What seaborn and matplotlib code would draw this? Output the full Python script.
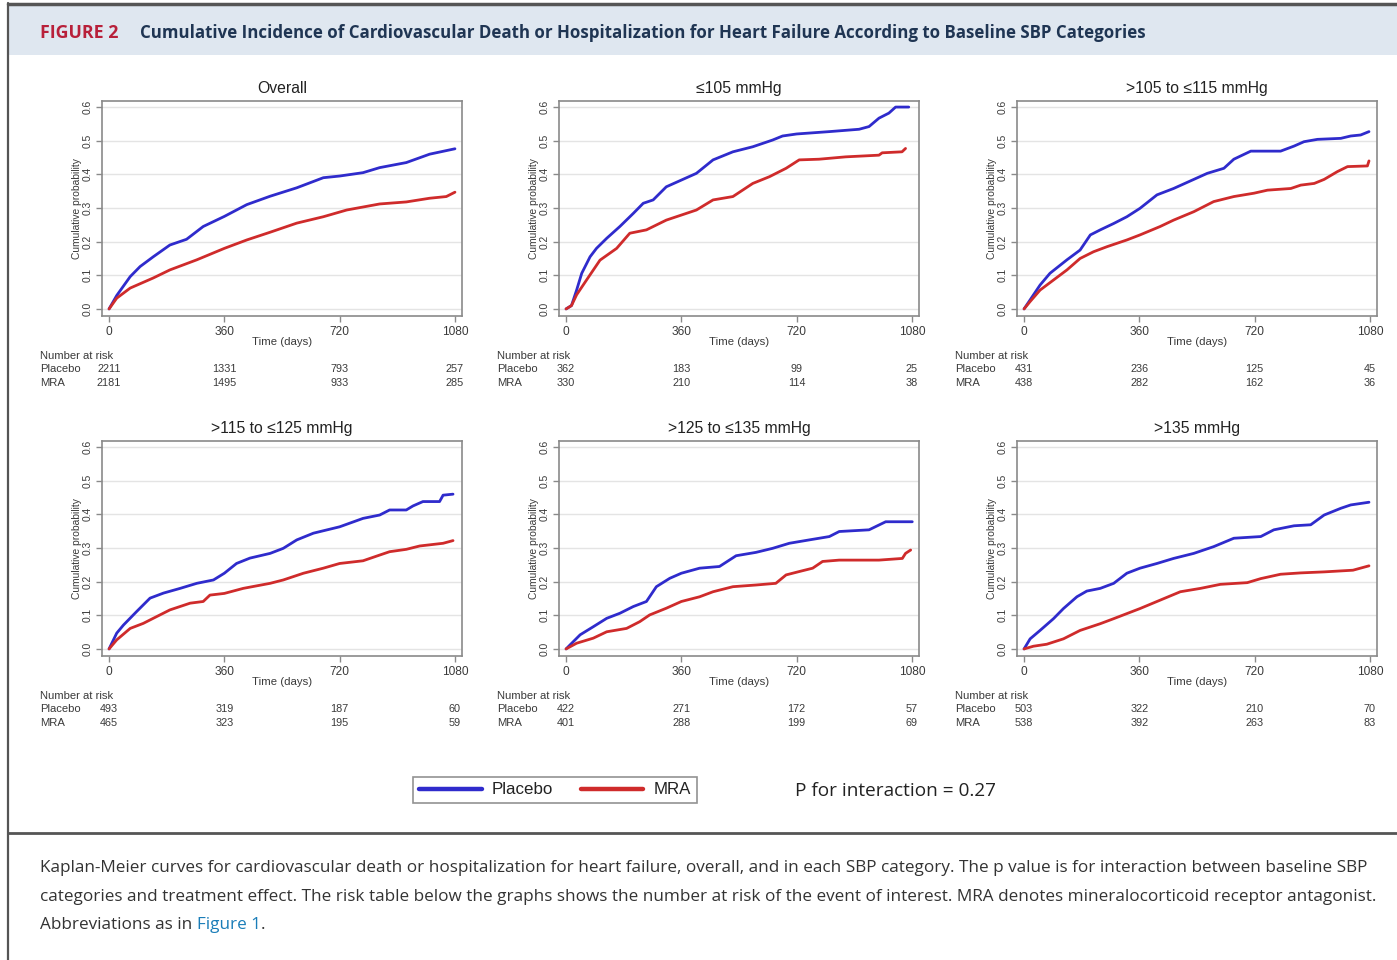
import matplotlib
matplotlib.use("Agg")
import matplotlib.pyplot as plt
import matplotlib.transforms as mtransforms
from matplotlib.lines import Line2D
from matplotlib.patches import Rectangle
import numpy as np
import pandas as pd
import seaborn as sns

# ---------------------------------------------------------------- data
panel_titles = ["Overall", "≤105 mmHg", ">105 to ≤115 mmHg",
                ">115 to ≤125 mmHg", ">125 to ≤135 mmHg", ">135 mmHg"]
arms = ["Placebo", "MRA"]
risk_times = [0, 360, 720, 1080]
xtick_labels = ["0", "360", "720", "1080"]
ytick_values = [0.0, 0.1, 0.2, 0.3, 0.4, 0.5, 0.6]

# Overall
overall_placebo_t = [0, 24, 66, 97, 138, 190, 242, 294, 360, 430, 503, 586, 669, 720, 793, 845, 928, 1001, 1080]
overall_placebo_p = [0, 0.040, 0.096, 0.126, 0.155, 0.190, 0.207, 0.245, 0.275, 0.310, 0.335, 0.360, 0.390, 0.395, 0.405, 0.420, 0.435, 0.460, 0.476]
overall_mra_t = [0, 24, 66, 138, 190, 274, 360, 430, 503, 586, 669, 742, 845, 928, 1001, 1053, 1080]
overall_mra_p = [0, 0.032, 0.062, 0.092, 0.116, 0.146, 0.180, 0.205, 0.228, 0.255, 0.274, 0.294, 0.312, 0.318, 0.329, 0.334, 0.347]

# <=105 mmHg
sbp1_placebo_t = [0, 17, 33, 49, 75, 95, 127, 168, 210, 241, 272, 313, 360, 407, 459, 521, 583, 645, 676, 720, 822, 915, 946, 977, 1008, 1029, 1070]
sbp1_placebo_p = [0, 0.010, 0.056, 0.106, 0.155, 0.180, 0.210, 0.245, 0.284, 0.314, 0.324, 0.363, 0.383, 0.403, 0.443, 0.467, 0.482, 0.502, 0.514, 0.520, 0.527, 0.534, 0.542, 0.567, 0.582, 0.600, 0.600]
sbp1_mra_t = [0, 17, 33, 64, 106, 158, 199, 251, 313, 360, 407, 459, 521, 583, 635, 687, 728, 790, 873, 977, 987, 1049, 1060]
sbp1_mra_p = [0, 0.010, 0.042, 0.086, 0.145, 0.180, 0.225, 0.235, 0.264, 0.279, 0.294, 0.324, 0.334, 0.373, 0.393, 0.418, 0.443, 0.445, 0.452, 0.457, 0.464, 0.467, 0.477]

# >105 to <=115 mmHg
sbp2_placebo_t = [0, 19, 50, 81, 134, 175, 207, 238, 280, 321, 362, 415, 467, 530, 572, 624, 655, 708, 801, 843, 874, 916, 989, 1020, 1051, 1077]
sbp2_placebo_p = [0, 0.027, 0.071, 0.106, 0.146, 0.175, 0.220, 0.235, 0.254, 0.274, 0.299, 0.339, 0.358, 0.385, 0.403, 0.418, 0.445, 0.469, 0.469, 0.484, 0.497, 0.504, 0.507, 0.514, 0.517, 0.527]
sbp2_mra_t = [0, 19, 50, 92, 134, 175, 217, 259, 321, 362, 425, 467, 530, 592, 655, 718, 760, 833, 864, 906, 937, 978, 1010, 1072, 1077]
sbp2_mra_p = [0, 0.022, 0.056, 0.086, 0.116, 0.150, 0.170, 0.185, 0.205, 0.220, 0.245, 0.264, 0.289, 0.319, 0.334, 0.344, 0.353, 0.358, 0.368, 0.373, 0.385, 0.408, 0.423, 0.425, 0.440]

# >115 to <=125 mmHg
sbp3_placebo_t = [0, 24, 45, 86, 128, 170, 222, 274, 326, 360, 398, 440, 503, 544, 586, 638, 720, 793, 845, 876, 928, 949, 980, 1032, 1043, 1074]
sbp3_placebo_p = [0, 0.047, 0.071, 0.111, 0.151, 0.166, 0.180, 0.195, 0.205, 0.225, 0.254, 0.270, 0.284, 0.299, 0.324, 0.344, 0.363, 0.388, 0.398, 0.413, 0.413, 0.425, 0.438, 0.438, 0.457, 0.460]
sbp3_mra_t = [0, 24, 66, 107, 138, 190, 253, 294, 315, 360, 419, 503, 544, 607, 669, 720, 793, 845, 876, 928, 970, 1043, 1074]
sbp3_mra_p = [0, 0.027, 0.061, 0.076, 0.091, 0.116, 0.136, 0.141, 0.160, 0.165, 0.180, 0.195, 0.205, 0.225, 0.240, 0.254, 0.262, 0.279, 0.289, 0.296, 0.306, 0.314, 0.322]

# >125 to <=135 mmHg
sbp4_placebo_t = [0, 23, 44, 85, 127, 168, 210, 251, 282, 324, 360, 417, 479, 531, 593, 645, 697, 759, 822, 853, 946, 998, 1081]
sbp4_placebo_p = [0, 0.022, 0.042, 0.066, 0.091, 0.106, 0.126, 0.141, 0.185, 0.210, 0.225, 0.240, 0.245, 0.277, 0.287, 0.299, 0.314, 0.324, 0.334, 0.349, 0.354, 0.378, 0.378]
sbp4_mra_t = [0, 33, 85, 127, 189, 230, 261, 313, 360, 417, 459, 521, 593, 655, 687, 728, 770, 801, 853, 977, 1050, 1060, 1076]
sbp4_mra_p = [0, 0.017, 0.032, 0.051, 0.061, 0.081, 0.101, 0.121, 0.141, 0.155, 0.170, 0.185, 0.190, 0.195, 0.220, 0.230, 0.240, 0.260, 0.264, 0.264, 0.269, 0.284, 0.294]

# >135 mmHg
sbp5_placebo_t = [0, 19, 50, 92, 123, 165, 196, 238, 280, 321, 362, 415, 467, 530, 592, 655, 739, 780, 843, 895, 937, 989, 1020, 1077]
sbp5_placebo_p = [0, 0.030, 0.055, 0.090, 0.120, 0.155, 0.172, 0.180, 0.195, 0.225, 0.240, 0.254, 0.269, 0.284, 0.304, 0.329, 0.334, 0.354, 0.366, 0.369, 0.398, 0.418, 0.428, 0.436]
sbp5_mra_t = [0, 29, 71, 123, 175, 238, 280, 362, 425, 488, 551, 613, 697, 739, 801, 864, 937, 1027, 1077]
sbp5_mra_p = [0, 0.008, 0.014, 0.030, 0.055, 0.075, 0.090, 0.120, 0.145, 0.170, 0.180, 0.192, 0.197, 0.209, 0.222, 0.226, 0.229, 0.234, 0.247]

# number at risk at 0, 360, 720, 1080 days
risk_placebo = [[2211, 1331, 793, 257], [362, 183, 99, 25], [431, 236, 125, 45],
                [493, 319, 187, 60], [422, 271, 172, 57], [503, 322, 210, 70]]
risk_mra = [[2181, 1495, 933, 285], [330, 210, 114, 38], [438, 282, 162, 36],
            [465, 323, 195, 59], [401, 288, 199, 69], [538, 392, 263, 83]]

curves = [
    (overall_placebo_t, overall_placebo_p, overall_mra_t, overall_mra_p),
    (sbp1_placebo_t, sbp1_placebo_p, sbp1_mra_t, sbp1_mra_p),
    (sbp2_placebo_t, sbp2_placebo_p, sbp2_mra_t, sbp2_mra_p),
    (sbp3_placebo_t, sbp3_placebo_p, sbp3_mra_t, sbp3_mra_p),
    (sbp4_placebo_t, sbp4_placebo_p, sbp4_mra_t, sbp4_mra_p),
    (sbp5_placebo_t, sbp5_placebo_p, sbp5_mra_t, sbp5_mra_p),
]

# ---------------------------------------------------------------- style
sns.set_theme(style="white")
plt.rcParams["font.family"] = ["Liberation Sans", "DejaVu Sans"]

W, H = 1397, 960
fig = plt.figure(figsize=(W / 100, H / 100), dpi=100)
fig.patch.set_facecolor("white")

BLUE = "#2f2bcc"
RED = "#cf2b2b"
palette = {"Placebo": BLUE, "MRA": RED}
SPINE = "#8a8a8a"
TXT = "#3a3a3a"


def fx(px):
    return px / W


def fy(py):
    return 1 - py / H


# page furniture: header band, frame lines
fig.add_artist(Rectangle((fx(9), fy(55)), 1 - fx(9), fy(6) - fy(55),
                         transform=fig.transFigure, facecolor="#dfe7f0",
                         edgecolor="none", zorder=0))
fig.add_artist(Line2D([fx(8), 1], [fy(4), fy(4)], transform=fig.transFigure,
                      color="#555555", lw=2.5))
fig.add_artist(Line2D([fx(8), fx(8)], [fy(3), 0], transform=fig.transFigure,
                      color="#555555", lw=1.6))
fig.add_artist(Line2D([fx(8), 1], [fy(833), fy(833)], transform=fig.transFigure,
                      color="#555555", lw=2.0))

fig.text(fx(40), fy(33), "FIGURE 2", family="Open Sans", weight="bold",
         fontsize=12.8, color="#b8203a", va="center", ha="left")
fig.text(fx(140), fy(33),
         "Cumulative Incidence of Cardiovascular Death or Hospitalization for Heart Failure According to Baseline SBP Categories",
         family="Open Sans", weight="bold", fontsize=12.2, color="#1f3553",
         va="center", ha="left")

# ---------------------------------------------------------------- panels
lefts = [102, 559, 1017]
bottoms = [316, 656]
ax_w, ax_h = 360, 215
RISK_FS = 8.1

axes = []
for i, title in enumerate(panel_titles):
    r, c = divmod(i, 3)
    ax = fig.add_axes([fx(lefts[c]), fy(bottoms[r]), ax_w / W, ax_h / H])
    axes.append(ax)
    pt, pp, mt, mp = curves[i]
    df = pd.concat([
        pd.DataFrame({"time": pt, "prob": pp, "arm": "Placebo"}),
        pd.DataFrame({"time": mt, "prob": mp, "arm": "MRA"}),
    ], ignore_index=True)
    sns.lineplot(data=df, x="time", y="prob", hue="arm", hue_order=arms,
                 palette=palette, estimator=None, errorbar=None, legend=False,
                 lw=2.0, ax=ax, zorder=3)

    ax.set_xlim(-22, 1102)
    ax.set_ylim(-0.021, 0.618)
    ax.set_xticks(risk_times)
    ax.set_xticklabels(xtick_labels)
    ax.set_yticks(ytick_values)
    ax.set_yticklabels([f"{v:.1f}" for v in ytick_values])
    ax.yaxis.grid(True, color="#e4e4e4", lw=1.0, zorder=0)
    ax.xaxis.grid(False)
    for s in ax.spines.values():
        s.set_visible(True)
        s.set_color(SPINE)
        s.set_linewidth(1.2)
    ax.tick_params(axis="both", which="major", direction="out", length=4,
                   width=1.0, color=SPINE, labelsize=8.6, labelcolor=TXT,
                   bottom=True, left=True, pad=3)
    ax.tick_params(axis="y", labelrotation=90, labelsize=7.4, pad=2.5)
    for lab in ax.get_yticklabels():
        lab.set_va("center")

    ax.set_xlabel("Time (days)", fontsize=8.2, color=TXT)
    ax.xaxis.set_label_coords(0.5, -26 / ax_h)
    ax.xaxis.label.set_va("center")
    ax.set_ylabel("Cumulative probability", fontsize=7.4, color=TXT)
    ax.yaxis.set_label_coords(-25 / ax_w, 0.5)
    ax.yaxis.label.set_va("center")

    ax.set_title(title, fontsize=11.3, color="#222222", y=1 + 12 / ax_h,
                 pad=0, va="center")

    # number-at-risk table
    blend = mtransforms.blended_transform_factory(ax.transData, ax.transAxes)
    lab_x = -62 / ax_w
    ax.text(lab_x, -40 / ax_h, "Number at risk", transform=ax.transAxes,
            fontsize=RISK_FS, color=TXT, ha="left", va="center")
    ax.text(lab_x, -53 / ax_h, "Placebo", transform=ax.transAxes,
            fontsize=RISK_FS, color=TXT, ha="left", va="center")
    ax.text(lab_x, -67 / ax_h, "MRA", transform=ax.transAxes,
            fontsize=RISK_FS, color=TXT, ha="left", va="center")
    for t, n_p, n_m in zip(risk_times, risk_placebo[i], risk_mra[i]):
        ax.text(t, -53 / ax_h, str(n_p), transform=blend, fontsize=7.8,
                color=TXT, ha="center", va="center")
        ax.text(t, -67 / ax_h, str(n_m), transform=blend, fontsize=7.8,
                color=TXT, ha="center", va="center")

# ---------------------------------------------------------------- legend
handles = [Line2D([], [], color=BLUE, lw=3.2), Line2D([], [], color=RED, lw=3.2)]
leg = fig.legend(handles, arms, loc="center", bbox_to_anchor=(fx(555), fy(790)),
                 ncol=2, frameon=True, fancybox=False, edgecolor="#777777",
                 fontsize=12.2, handlelength=3.7, handletextpad=0.6,
                 columnspacing=1.6, borderpad=0.35, borderaxespad=0)
leg.get_frame().set_linewidth(1.2)
for t in leg.get_texts():
    t.set_color("#222222")

fig.text(fx(795), fy(791), "P for interaction = 0.27", family="Open Sans",
         fontsize=13.7, color="#222222", ha="left", va="center")

# ---------------------------------------------------------------- caption
cap_kw = dict(family="Open Sans", fontsize=12.3, color="#333333",
              ha="left", va="center")
fig.text(fx(40), fy(868),
         "Kaplan-Meier curves for cardiovascular death or hospitalization for heart failure, overall, and in each SBP category. The p value is for interaction between baseline SBP",
         **cap_kw)
fig.text(fx(40), fy(897),
         "categories and treatment effect. The risk table below the graphs shows the number at risk of the event of interest. MRA denotes mineralocorticoid receptor antagonist.",
         **cap_kw)
t1 = fig.text(fx(40), fy(925), "Abbreviations as in ", **cap_kw)
renderer = fig.canvas.get_renderer()
bb = t1.get_window_extent(renderer=renderer)
t2 = fig.text(bb.x1 / W, fy(925), "Figure 1", **{**cap_kw, "color": "#1a7db8"})
bb2 = t2.get_window_extent(renderer=renderer)
fig.text(bb2.x1 / W, fy(925), ".", **cap_kw)

fig.savefig("out.png", dpi=100, facecolor="white")
